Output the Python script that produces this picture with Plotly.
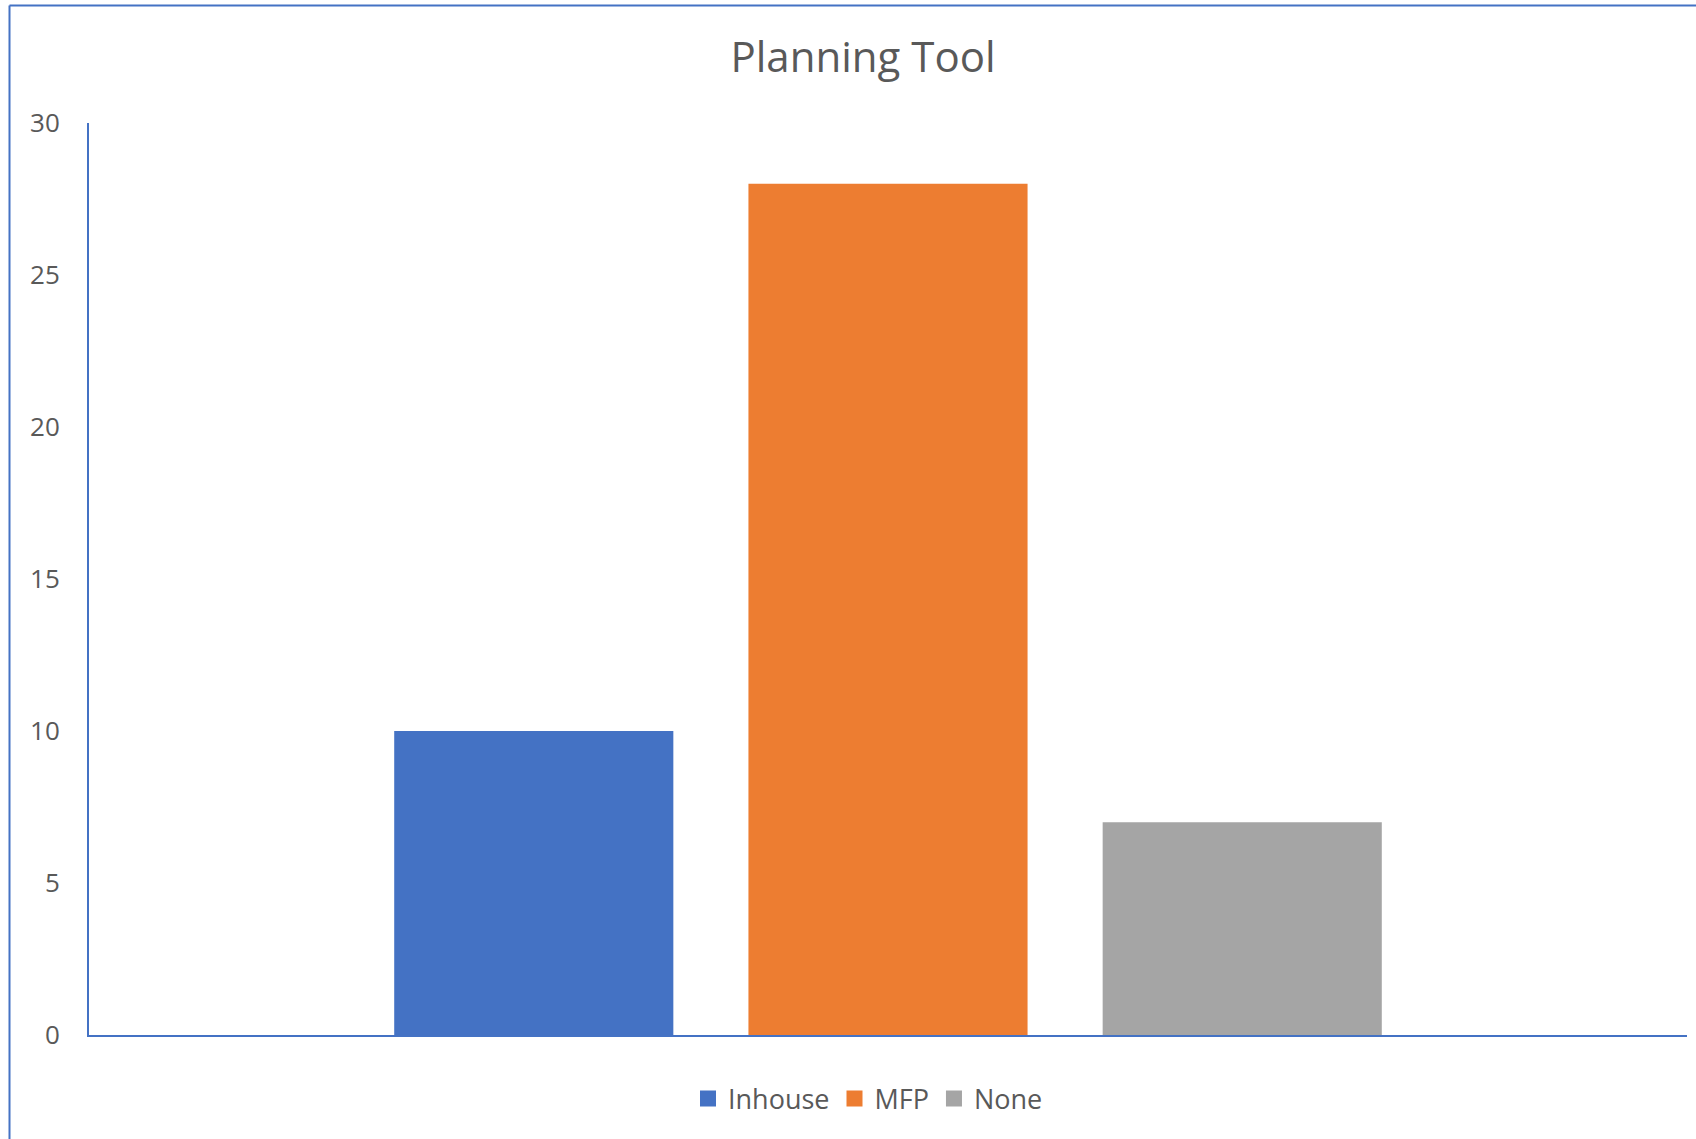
import plotly.graph_objects as go

# Data
categories = [""]
series_names = ["Inhouse", "MFP", "None"]
series_values = [[10], [28], [7]]
series_colors = ["#4472C4", "#ED7D31", "#A5A5A5"]
y_ticks = [0, 5, 10, 15, 20, 25, 30]

W, H = 1696, 1139
L, R, T, B = 89, 9, 123, 104
pw, ph = W - L - R, H - T - B

FONT = "Open Sans"
TXT = "#595959"
BLUE = "#4472C4"

fig = go.Figure()
for name, vals, col in zip(series_names, series_values, series_colors):
    fig.add_trace(go.Bar(x=categories, y=vals, name=name, marker_color=col,
                         marker_line_width=0, showlegend=False))
# legend entries with larger square symbols
for name, col in zip(series_names, series_colors):
    fig.add_trace(go.Scatter(x=[None], y=[None], mode="markers", name=name,
                             marker=dict(symbol="square", size=18, color=col)))

fig.update_layout(
    width=W, height=H,
    margin=dict(l=L, r=R, t=T, b=B, pad=0),
    paper_bgcolor="white", plot_bgcolor="white",
    barmode="group", bargap=0.335, bargroupgap=0.212,
    title=dict(text="Planning Tool", x=863 / W, xanchor="center",
               y=1 - 57 / H, yanchor="middle", yref="container",
               font=dict(family=FONT, size=42, color=TXT)),
    font=dict(family=FONT, color=TXT),
    showlegend=True,
    legend=dict(orientation="h", x=(868 - L) / pw, xanchor="center",
                y=(H - B - 1099) / ph, yanchor="middle",
                font=dict(family=FONT, size=27, color=TXT),
                itemsizing="trace", bgcolor="rgba(0,0,0,0)"),
    xaxis=dict(showgrid=False, zeroline=False, showticklabels=False,
               showline=True, linecolor=BLUE, linewidth=2, ticks=""),
    yaxis=dict(range=[0, 30], tickvals=y_ticks, showgrid=False, zeroline=False,
               showline=True, linecolor=BLUE, linewidth=2, ticks="",
               ticklabelstandoff=22,
               tickfont=dict(family=FONT, size=26, color=TXT)),
)

# chart-area border (top and left edges visible)
x_left = (9.5 - L) / pw
y_top = (H - B - 5.5) / ph
fig.add_shape(type="line", xref="paper", yref="paper", x0=x_left, x1=1.2,
              y0=y_top, y1=y_top, line=dict(color=BLUE, width=2))
fig.add_shape(type="line", xref="paper", yref="paper", x0=x_left, x1=x_left,
              y0=y_top, y1=-0.3, line=dict(color=BLUE, width=2))

fig.write_html("out.html", config={"displayModeBar": False},
               post_script="document.body.style.margin='0';document.body.style.overflow='hidden';")
